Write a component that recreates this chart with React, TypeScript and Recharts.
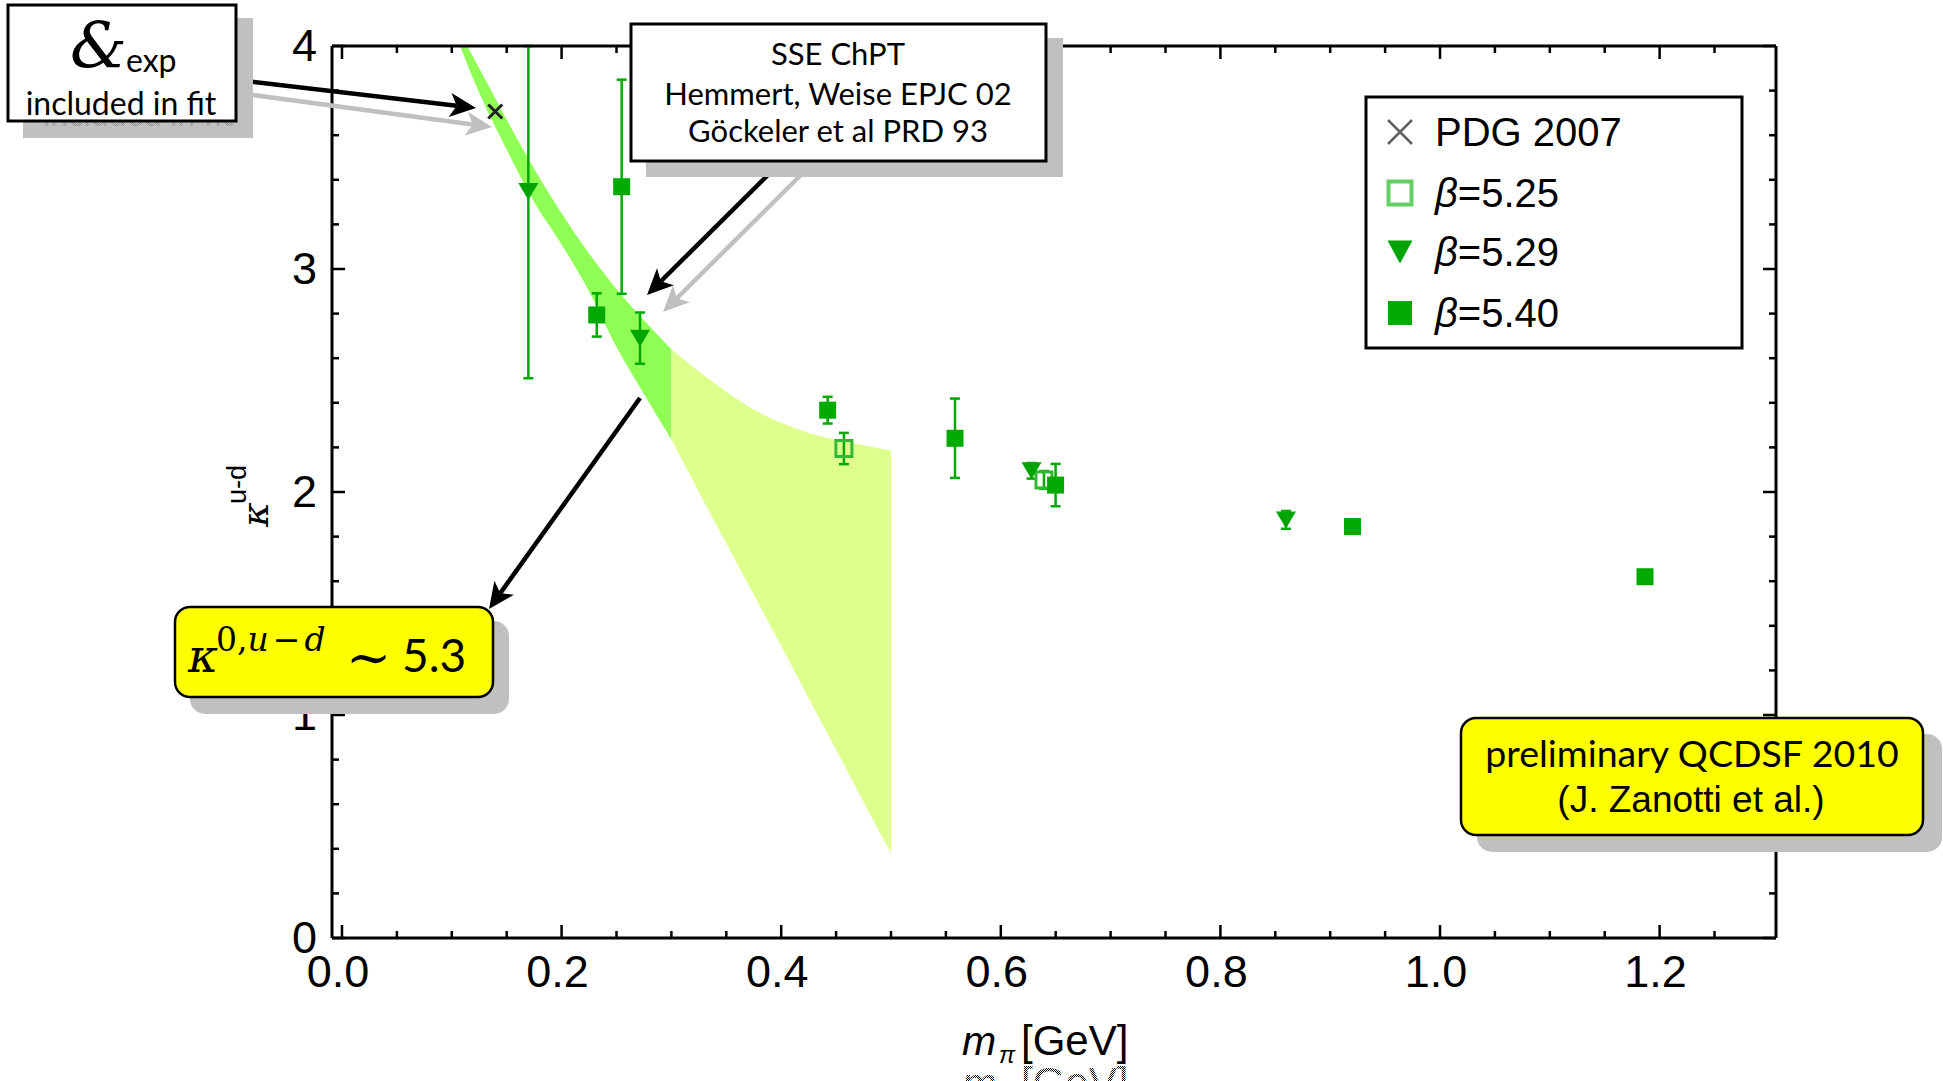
import React from 'react'
import { ComposedChart, Area, Scatter, ErrorBar, XAxis, YAxis } from 'recharts'

// axis setup
const xDomain = [-0.0091, 1.306]
const yDomain = [0, 4]
const xTicks = [0, 0.05, 0.1, 0.15, 0.2, 0.25, 0.3, 0.35, 0.4, 0.45, 0.5, 0.55, 0.6, 0.65, 0.7, 0.75, 0.8, 0.85, 0.9, 0.95, 1.0, 1.05, 1.1, 1.15, 1.2, 1.25]
const xLabels = ['0.0', '0.2', '0.4', '0.6', '0.8', '1.0', '1.2']
const yTicks = [0, 0.2, 0.4, 0.6, 0.8, 1, 1.2, 1.4, 1.6, 1.8, 2, 2.2, 2.4, 2.6, 2.8, 3, 3.2, 3.4, 3.6, 3.8, 4]
const yLabels = ['0', '1', '2', '3', '4']

// PDG 2007
const pdgX = [0.1396]
const pdgY = [3.706]

// beta = 5.25 (open squares)
const b525X = [0.4571, 0.6393]
const b525Y = [2.195, 2.054]
const b525Err = [0.07, 0.04]

// beta = 5.29 (down triangles); first bar runs off the top of the frame
const b529X = [0.1697, 0.2714, 0.628, 0.8597]
const b529Y = [3.347, 2.69, 2.095, 1.875]
const b529ErrLo = [0.837, 0.115, 0.035, 0.04]
const b529ErrHi = [0.653, 0.115, 0.035, 0.04]

// beta = 5.40 (filled squares)
const b540X = [0.232, 0.2547, 0.4423, 0.5583, 0.6499, 0.9203, 1.1867]
const b540Y = [2.794, 3.369, 2.367, 2.241, 2.031, 1.845, 1.62]
const b540Err = [0.097, 0.48, 0.06, 0.178, 0.095, 0.03, 0.02]

// SSE ChPT band, fitted part and extrapolated part
const innerX = [0.1075, 0.125, 0.15, 0.175, 0.2, 0.225, 0.25, 0.275, 0.3]
const innerLo = [4.0, 3.79, 3.535, 3.3, 3.11, 2.9, 2.65, 2.44, 2.235]
const innerHi = [4.06, 3.9, 3.67, 3.45, 3.25, 3.07, 2.91, 2.77, 2.64]
const outerX = [0.3, 0.325, 0.35, 0.375, 0.4, 0.425, 0.45, 0.475, 0.5]
const outerLo = [2.235, 2.0, 1.77, 1.54, 1.31, 1.075, 0.845, 0.61, 0.38]
const outerHi = [2.64, 2.54, 2.45, 2.37, 2.31, 2.265, 2.235, 2.21, 2.185]

const betaLabels = ['5.25', '5.29', '5.40']

const pts = (xs: number[], ys: number[], errs?: number[], errsHi?: number[]) =>
  xs.map((x, i) => ({
    x,
    y: ys[i],
    err: errs ? (errsHi ? [errs[i], errsHi[i]] : errs[i]) : 0,
  }))
const band = (xs: number[], lo: number[], hi: number[]) =>
  xs.map((x, i) => ({ x, range: [lo[i], hi[i]] }))

const GREEN = '#00aa00'
const TICKFONT = '"Liberation Sans", Arial, sans-serif'
const BOXFONT = 'Lato, "Noto Sans", sans-serif'
const MATHFONT = '"DejaVu Serif", serif'

const near = (v: number, k: number) => Math.abs(v * k - Math.round(v * k)) < 1e-6

const Square = ({ cx, cy, s = 17 }: any) => <rect x={cx - s / 2} y={cy - s / 2} width={s} height={s} fill={GREEN} />
const OpenSquare = ({ cx, cy, s = 16, sw = 3, c = '#33b833' }: any) => (
  <rect x={cx - s / 2} y={cy - s / 2} width={s} height={s} fill="none" stroke={c} strokeWidth={sw} />
)
const Tri = ({ cx, cy, w = 20, h = 17 }: any) => (
  <polygon points={`${cx - w / 2},${cy - h / 2} ${cx + w / 2},${cy - h / 2} ${cx},${cy + h / 2}`} fill="#00a400" />
)
const Cross = ({ cx, cy, r = 7, c = '#222', sw = 3 }: any) => (
  <g stroke={c} strokeWidth={sw}>
    <line x1={cx - r} y1={cy - r} x2={cx + r} y2={cy + r} />
    <line x1={cx - r} y1={cy + r} x2={cx + r} y2={cy - r} />
  </g>
)

function BottomTick(p: any) {
  const v = p.payload.value
  const major = near(v, 5)
  return (
    <g>
      <line x1={p.x} x2={p.x} y1={p.y} y2={p.y - (major ? 13 : 7)} stroke="#000" strokeWidth={2.5} />
      {major && (
        <text x={p.x - 4} y={p.y + 49} textAnchor="middle" fontSize={45} fontFamily={TICKFONT} fill="#000">
          {xLabels[Math.round(v * 5)]}
        </text>
      )}
    </g>
  )
}
function TopTick(p: any) {
  const major = near(p.payload.value, 5)
  return <line x1={p.x} x2={p.x} y1={p.y} y2={p.y + (major ? 13 : 7)} stroke="#000" strokeWidth={2.5} />
}
function LeftTick(p: any) {
  const v = p.payload.value
  const major = near(v, 1)
  return (
    <g>
      <line x1={p.x} x2={p.x + (major ? 13 : 7)} y1={p.y} y2={p.y} stroke="#000" strokeWidth={2.5} />
      {major && (
        <text x={p.x - 15} y={p.y + 15} textAnchor="end" fontSize={45} fontFamily={TICKFONT} fill="#000">
          {yLabels[Math.round(v)]}
        </text>
      )}
    </g>
  )
}
function RightTick(p: any) {
  const major = near(p.payload.value, 1)
  return <line x1={p.x} x2={p.x - (major ? 13 : 7)} y1={p.y} y2={p.y} stroke="#000" strokeWidth={2.5} />
}

function Arrow({ x1, y1, x2, y2, color = '#000', w = 4.5, head = 26, half = 12 }: any) {
  const L = Math.hypot(x2 - x1, y2 - y1)
  const ux = (x2 - x1) / L
  const uy = (y2 - y1) / L
  const bx = x2 - ux * head
  const by = y2 - uy * head
  const nx = x2 - ux * head * 0.75
  const ny = y2 - uy * head * 0.75
  const px = -uy * half
  const py = ux * half
  return (
    <g>
      <line x1={x1} y1={y1} x2={nx} y2={ny} stroke={color} strokeWidth={w} />
      <polygon points={`${x2},${y2} ${bx + px},${by + py} ${nx},${ny} ${bx - px},${by - py}`} fill={color} />
    </g>
  )
}

function Overlay() {
  const legendRows = [132, 193, 252, 313]
  return (
    <svg width={1943} height={1081} style={{ position: 'absolute', left: 0, top: 0, pointerEvents: 'none' }}>
      <defs>
        <pattern id="stipple" width="2" height="2" patternUnits="userSpaceOnUse">
          <rect x="0" y="0" width="1" height="1" fill="#000" />
          <rect x="1" y="1" width="1" height="1" fill="#000" />
        </pattern>
        <pattern id="stippleGray" width="2" height="2" patternUnits="userSpaceOnUse">
          <rect x="0" y="0" width="1" height="1" fill="#8a8a8a" />
          <rect x="1" y="1" width="1" height="1" fill="#8a8a8a" />
        </pattern>
      </defs>

      {/* arrows */}
      <Arrow x1={253} y1={95} x2={492} y2={127} color="#c0c0c0" />
      <Arrow x1={236} y1={80} x2={476} y2={108} />
      <Arrow x1={815} y1={161} x2={663} y2={312} color="#c0c0c0" />
      <Arrow x1={782} y1={161} x2={647} y2={295} />
      <Arrow x1={640} y1={398} x2={489} y2={609} />

      {/* kappa_exp box */}
      <rect x={23} y={18} width={230} height={120} fill="#c0c0c0" />
      <text x={138} y={126} textAnchor="middle" fontSize={32} fontFamily={BOXFONT} fill="url(#stippleGray)">
        included in fit
      </text>
      <rect x={8} y={5} width={228} height={116} fill="#fff" stroke="#000" strokeWidth={3} />
      <text x={70} y={68} fontSize={64} fontFamily={MATHFONT} fontStyle="italic" fill="#000">&amp;</text>
      <text x={126} y={72} fontSize={32} fontFamily={BOXFONT} fill="#000">exp</text>
      <text x={121} y={115} textAnchor="middle" fontSize={32} fontFamily={BOXFONT} fill="#000">included in fit</text>

      {/* SSE ChPT box */}
      <rect x={646} y={38} width={417} height={139} fill="#c0c0c0" />
      <rect x={631} y={24} width={415} height={137} fill="#fff" stroke="#000" strokeWidth={3} />
      <g fontFamily={BOXFONT} fontSize={31} textAnchor="middle" fill="#000">
        <text x={838} y={65}>SSE ChPT</text>
        <text x={838} y={105}>Hemmert, Weise EPJC 02</text>
        <text x={838} y={142}>Göckeler et al PRD 93</text>
      </g>

      {/* legend */}
      <rect x={1366} y={97} width={376} height={251} fill="#fff" stroke="#000" strokeWidth={3} />
      <Cross cx={1400} cy={legendRows[0]} r={12} c="#606060" sw={2.5} />
      <OpenSquare cx={1400} cy={legendRows[1]} s={23} sw={4} c="#66cc66" />
      <Tri cx={1400} cy={legendRows[2]} w={25} h={23} />
      <Square cx={1400} cy={legendRows[3]} s={24} />
      <g fontFamily={TICKFONT} fontSize={40} fill="#000">
        <text x={1435} y={legendRows[0] + 14}>PDG 2007</text>
        {betaLabels.map((b, i) => (
          <text key={b} x={1435} y={legendRows[i + 1] + 14}>
            <tspan fontStyle="italic">β</tspan>={b}
          </text>
        ))}
      </g>

      {/* kappa^0 box */}
      <rect x={190} y={621} width={319} height={93} rx={15} fill="#c0c0c0" />
      <rect x={175} y={607} width={318} height={90} rx={15} fill="#ffff00" stroke="#000" strokeWidth={2.5} />
      <text x={188} y={672} fontSize={46} fontFamily={MATHFONT} fontStyle="italic" fill="#000">κ</text>
      <text x={216} y={651} fontSize={33} fontFamily={MATHFONT} fill="#000">
        <tspan>0,</tspan>
        <tspan fontStyle="italic">u</tspan>
        <tspan dx={4}>−</tspan>
        <tspan dx={4} fontStyle="italic">d</tspan>
      </text>
      <text x={346} y={676} fontSize={54} fontFamily={MATHFONT} fill="#000">∼</text>
      <text x={402} y={672} fontSize={46} fontFamily={BOXFONT} fill="#000">5.3</text>

      {/* preliminary box */}
      <rect x={1477} y={734} width={465} height={118} rx={15} fill="#c0c0c0" />
      <rect x={1461} y={718} width={462} height={117} rx={15} fill="#ffff00" stroke="#000" strokeWidth={2.5} />
      <text x={1692} y={767} textAnchor="middle" fontSize={37.5} fontFamily={BOXFONT} fill="#000">preliminary QCDSF 2010</text>
      <text x={1691} y={812} textAnchor="middle" fontSize={37} fontFamily={TICKFONT} fill="#000">(J. Zanotti et al.)</text>

      {/* y axis title */}
      <g transform="translate(268,527) rotate(-90)" fill="#000">
        <text x={0} y={0} fontSize={38} fontFamily={MATHFONT} fontStyle="italic">κ</text>
        <text x={23} y={-22} fontSize={27} fontFamily={TICKFONT}>u-d</text>
      </g>

      {/* x axis title and its ghost copy */}
      {[0, 42].map((dy) => (
        <g key={dy} fontFamily={TICKFONT} fill={dy ? 'url(#stipple)' : '#000'}>
          <text x={962} y={1055 + dy} fontSize={41} fontStyle="italic">m</text>
          <text x={999} y={1063 + dy} fontSize={24} fontStyle="italic">π</text>
          <text x={1021} y={1055 + dy} fontSize={42}>[GeV]</text>
        </g>
      ))}
    </svg>
  )
}

export default function App() {
  return (
    <div style={{ position: 'absolute', left: 0, top: 0, width: 1943, height: 1081, background: '#fff' }}>
      <ComposedChart width={1943} height={1081} margin={{ top: 36, right: 157, bottom: 83, left: 232 }}>
        <Area
          data={band(innerX, innerLo, innerHi)}
          dataKey="range"
          type="monotone"
          stroke="none"
          fill="#90ff55"
          fillOpacity={1}
          dot={false}
          activeDot={false}
          isAnimationActive={false}
        />
        <Area
          data={band(outerX, outerLo, outerHi)}
          dataKey="range"
          type="monotone"
          stroke="none"
          fill="#ddff8c"
          fillOpacity={1}
          dot={false}
          activeDot={false}
          isAnimationActive={false}
        />
        <Scatter data={pts(b525X, b525Y, b525Err)} dataKey="y" isAnimationActive={false} shape={(p: any) => <OpenSquare {...p} />}>
          <ErrorBar dataKey="err" direction="y" width={5} stroke={GREEN} strokeWidth={2.5} />
        </Scatter>
        <Scatter data={pts(b529X, b529Y, b529ErrLo, b529ErrHi)} dataKey="y" isAnimationActive={false} shape={(p: any) => <Tri {...p} />}>
          <ErrorBar dataKey="err" direction="y" width={5} stroke={GREEN} strokeWidth={2.5} />
        </Scatter>
        <Scatter data={pts(b540X, b540Y, b540Err)} dataKey="y" isAnimationActive={false} shape={(p: any) => <Square {...p} />}>
          <ErrorBar dataKey="err" direction="y" width={5} stroke={GREEN} strokeWidth={2.5} />
        </Scatter>
        <Scatter data={pts(pdgX, pdgY)} dataKey="y" isAnimationActive={false} shape={(p: any) => <Cross {...p} />} />
        <XAxis
          xAxisId={0}
          dataKey="x"
          type="number"
          domain={xDomain}
          allowDataOverflow
          ticks={xTicks}
          interval={0}
          height={60}
          tickSize={0}
          tickMargin={0}
          tickLine={false}
          axisLine={{ stroke: '#000', strokeWidth: 3 }}
          tick={(p: any) => <BottomTick {...p} />}
        />
        <XAxis
          xAxisId="top"
          orientation="top"
          dataKey="x"
          type="number"
          domain={xDomain}
          allowDataOverflow
          ticks={xTicks}
          interval={0}
          height={10}
          tickSize={0}
          tickMargin={0}
          tickLine={false}
          axisLine={{ stroke: '#000', strokeWidth: 3 }}
          tick={(p: any) => <TopTick {...p} />}
        />
        <YAxis
          yAxisId={0}
          type="number"
          domain={yDomain}
          allowDataOverflow
          ticks={yTicks}
          interval={0}
          width={100}
          tickSize={0}
          tickMargin={0}
          tickLine={false}
          axisLine={{ stroke: '#000', strokeWidth: 3 }}
          tick={(p: any) => <LeftTick {...p} />}
        />
        <YAxis
          yAxisId="right"
          orientation="right"
          type="number"
          domain={yDomain}
          allowDataOverflow
          ticks={yTicks}
          interval={0}
          width={10}
          tickSize={0}
          tickMargin={0}
          tickLine={false}
          axisLine={{ stroke: '#000', strokeWidth: 3 }}
          tick={(p: any) => <RightTick {...p} />}
        />
      </ComposedChart>
      <Overlay />
    </div>
  )
}
